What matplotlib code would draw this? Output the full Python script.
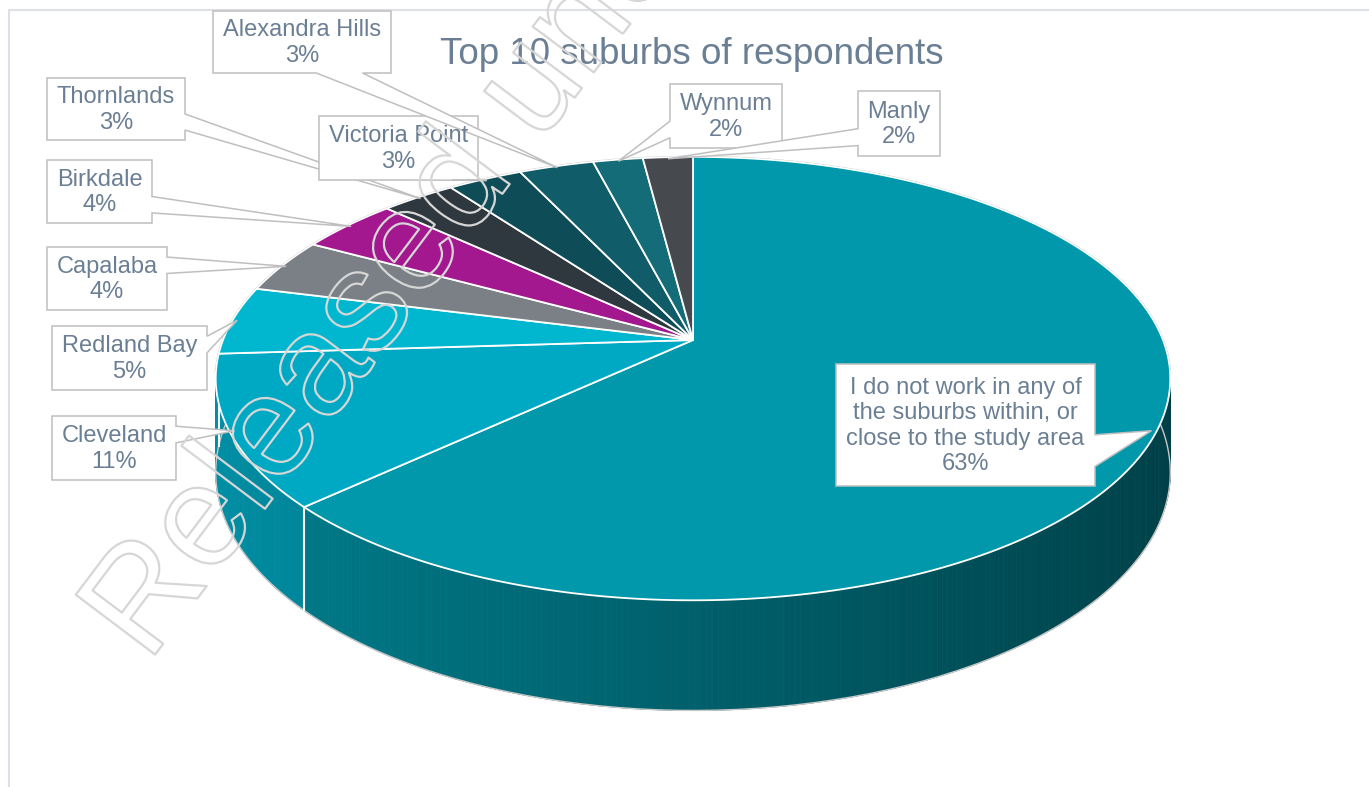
import numpy as np
import matplotlib
matplotlib.use("Agg")
import matplotlib.pyplot as plt
from matplotlib.patches import Polygon
from matplotlib.collections import PolyCollection
from matplotlib import colors as mcolors
from matplotlib import patheffects as pe

# ─── DATA ────────────────────────────────────────────────────────────────────
suburbs = ["I do not work in any of\nthe suburbs within, or\nclose to the study area",
           "Cleveland", "Redland Bay", "Capalaba", "Birkdale", "Thornlands",
           "Victoria Point", "Alexandra Hills", "Wynnum", "Manly"]
shares = [63, 11, 5, 4, 4, 3, 3, 3, 2, 2]
slice_colors = ["#0098aa", "#00a9c3", "#00b7cf", "#7b8086", "#a3188f",
                "#2f383f", "#0e4d58", "#105d69", "#136c78", "#46494e"]

# callout boxes (pixel layout): x0, y0, x1, y1, side where the pointer sits
box_x0 = [836, 52, 52, 47, 47, 47, 319, 213, 670, 858]
box_y0 = [364, 416, 326, 247, 160, 78, 116, 11, 84, 91]
box_x1 = [1095, 176, 207, 167, 152, 185, 478, 391, 782, 940]
box_y1 = [486, 480, 390, 310, 223, 140, 180, 73, 148, 156]
box_side = ["right", "right", "right", "right", "right", "right",
            "bottom", "bottom", "left", "left"]
# ─────────────────────────────────────────────────────────────────────────────

W, H = 1369, 787
CX, CY = 693, 340          # apex of the pie on screen
RX, RY = 470, 215          # radii of the top face
PERSP = 0.174              # fake perspective
DEPTH = 91                 # thickness of the pie
TEXT = "#6b7f94"
EDGE = "#bfbfbf"

plt.rcParams["font.family"] = ["Liberation Sans", "DejaVu Sans"]

fig = plt.figure(figsize=(W / 100, H / 100), dpi=100)
ax = fig.add_axes([0, 0, 1, 1])
ax.set_xlim(0, W)
ax.set_ylim(H, 0)
ax.axis("off")


def project(theta, r=1.0, z=0.0):
    """theta: clockwise from 12 o'clock. Returns screen (x, y)."""
    u = r * np.sin(theta)
    v = r * np.cos(theta)
    d = 1 + PERSP * v
    return CX + RX * u / d, CY + (-RY * v + z) / d


def shade(color, f):
    r, g, b = mcolors.to_rgb(color)
    return (r * f, g * f, b * f)


# chart area frame (only top/left visible)
ax.plot([9, 9, W + 5], [H + 5, 10, 10], color="#dde1e7", lw=1.5, zorder=0)

total = sum(shares)
bounds = np.concatenate([[0], np.cumsum(shares)]) / total * 2 * np.pi

# ─── side wall ───
quads, qcols, qdepth = [], [], []
for i in range(len(shares)):
    ts = np.linspace(bounds[i], bounds[i + 1], max(3, shares[i] * 6))
    for a, b in zip(ts[:-1], ts[1:]):
        quads.append([project(a), project(b), project(b, z=DEPTH), project(a, z=DEPTH)])
        m = (a + b) / 2
        qcols.append(shade(slice_colors[i], 0.63 - 0.22 * np.sin(m)))
        qdepth.append(np.cos(m))
order = np.argsort(-np.array(qdepth))
side = PolyCollection([quads[k] for k in order], facecolors=[qcols[k] for k in order],
                      edgecolors=[qcols[k] for k in order], linewidths=0.6, zorder=2)
ax.add_collection(side)

# outer silhouette: back rim of the top face and bottom rim of the wall
tt = np.linspace(-np.pi / 2 - 0.15, np.pi / 2 + 0.15, 200)
rx_, ry_ = project(tt)
ax.plot(rx_, ry_, color="#c4c4c4", lw=1.6, zorder=1.5)
tb = np.linspace(np.pi / 2 - 0.15, 3 * np.pi / 2 + 0.15, 200)
bx, by = project(tb, z=DEPTH)
ax.plot(bx, by, color="#c8c8c8", lw=1.0, zorder=2.5)

# seams on the front wall
for b in bounds:
    if np.cos(b) < 0:
        (x0, y0), (x1, y1) = project(b), project(b, z=DEPTH)
        ax.plot([x0, x1], [y0, y1], color="white", lw=1.5, zorder=3)

# ─── top face ───
for i in range(len(shares)):
    ts = np.linspace(bounds[i], bounds[i + 1], max(4, shares[i] * 8))
    xs, ys = project(ts)
    pts = [(CX, CY)] + list(zip(xs, ys))
    ax.add_patch(Polygon(pts, closed=True, facecolor=slice_colors[i], edgecolor="white",
                         lw=1.3, joinstyle="round", zorder=4))

# ─── callouts ───
for i in range(len(shares)):
    mid = (bounds[i] + bounds[i + 1]) / 2
    tip = project(mid, r=0.99)
    x0, y0, x1, y1 = box_x0[i], box_y0[i], box_x1[i], box_y1[i]
    s = box_side[i]
    if s in ("right", "left"):
        f = (0.58, 0.84) if tip[1] >= (y0 + y1) / 2 else (0.16, 0.42)
        b1, b2 = y0 + f[0] * (y1 - y0), y0 + f[1] * (y1 - y0)
        if s == "right":
            pts = [(x0, y0), (x1, y0), (x1, b1), tip, (x1, b2), (x1, y1), (x0, y1)]
        else:
            pts = [(x0, y0), (x1, y0), (x1, y1), (x0, y1), (x0, b2), tip, (x0, b1)]
    else:
        f = (0.58, 0.84) if tip[0] >= (x0 + x1) / 2 else (0.16, 0.42)
        b1, b2 = x0 + f[0] * (x1 - x0), x0 + f[1] * (x1 - x0)
        pts = [(x0, y0), (x1, y0), (x1, y1), (b2, y1), tip, (b1, y1), (x0, y1)]
    ax.add_patch(Polygon(pts, closed=True, facecolor="white", edgecolor=EDGE,
                         lw=1.1, joinstyle="miter", zorder=6))
    ax.text((x0 + x1) / 2, (y0 + y1) / 2 + 1, f"{suburbs[i]}\n{shares[i]}%",
            ha="center", va="center", fontsize=17, color=TEXT,
            linespacing=1.2, zorder=7)

ax.text(692, 64, "Top 10 suburbs of respondents", ha="center", va="baseline",
        fontsize=26.5, color=TEXT, zorder=7)

# watermark
ax.text(148, 664, "Released under RTI - DTMR", ha="left", va="baseline",
        rotation=53, rotation_mode="anchor", fontsize=104, color=(1, 1, 1, 0),
        path_effects=[pe.Stroke(linewidth=1.6, foreground="#d6d6d6")], zorder=9)

fig.savefig("out.png", dpi=100, facecolor="white")
plt.close(fig)
